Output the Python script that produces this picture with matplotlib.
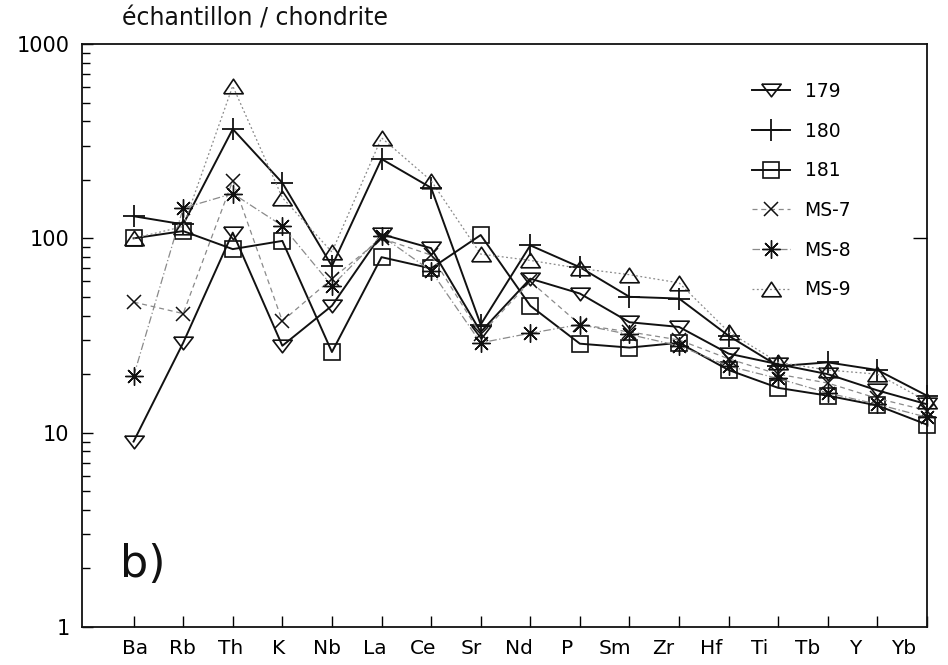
import matplotlib
matplotlib.use("Agg")
import matplotlib.pyplot as plt
import matplotlib.transforms as mtransforms
from matplotlib.ticker import FixedLocator, LogLocator, NullFormatter, NullLocator

elements = ["Ba", "Rb", "Th", "K", "Nb", "La", "Ce", "Sr", "Nd", "P",
            "Sm", "Zr", "Hf", "Ti", "Tb", "Y", "Yb"]

s179 = [9.0, 29, 107, 28, 45, 105, 89, 33, 62, 52, 37, 35, 25.5, 22.5, 20, 16.5, 14]
s180 = [130, 118, 365, 193, 72, 256, 182, 36, 92, 71, 50, 49, 31.5, 22, 23, 21, 15.5]
s181 = [100, 109, 88, 97, 26, 80, 70, 104, 45, 28.7, 27.4, 29, 21, 17, 15.5, 13.8, 11]
ms7 = [47, 41, 198, 37.5, 62, 100, 82, 32, 60, 36, 33, 30, 24, 20, 18, 15, 13]
ms8 = [19.5, 143, 170, 116, 57, 103, 68, 29, 32.5, 36, 32, 28, 22, 19, 16, 14, 12]
ms9 = [100, 115, 608, 162, 85, 329, 198, 83, 77, 70, 65, 59, 33, 23, 21, 20, 14.5]

series_labels = ["179", "180", "181", "MS-7", "MS-8", "MS-9"]

plt.rcParams['font.family'] = ['DejaVu Sans']

fig = plt.figure(figsize=(9.48, 6.65), dpi=100)
ax = fig.add_axes([82/948, 1-627/665, (927-82)/948, (627-44)/665])

x = list(range(len(elements)))

tri_down = [(-1, 0.65), (1, 0.65), (0, -0.65), (-1, 0.65)]
tri_up = [(-1, -0.75), (1, -0.75), (0, 0.75), (-1, -0.75)]

black = "#111111"
gray = "#8a8a8a"
styles = [
    dict(color=black, ls="-", lw=1.4, marker=tri_down, ms=14),
    dict(color=black, ls="-", lw=1.4, marker="+", ms=16, mew=1.3),
    dict(color=black, ls="-", lw=1.4, marker="s", ms=11),
    dict(color=gray, ls=(0, (4, 3)), lw=0.9, marker="x", ms=10, mec=black, mew=1.1),
    dict(color=gray, ls=(0, (6, 2, 1, 2)), lw=0.9, marker=(8, 2, 0), ms=13, mec=black, mew=1.0),
    dict(color=gray, ls=(0, (1.5, 2)), lw=0.9, marker=tri_up, ms=14, mec=black),
]
data = [s179, s180, s181, ms7, ms8, ms9]

for vals, lab, st in zip(data, series_labels, styles):
    kw = dict(st)
    kw.setdefault("mec", black)
    kw.setdefault("mew", 1.2)
    ax.plot(x, vals, label=lab, mfc="none", clip_on=False, **kw)

ax.set_yscale("log")
ax.set_ylim(1, 1000)
ax.set_xlim(-1.04, 16)

ax.set_xticks(x)
ax.set_xticklabels(elements)
ax.tick_params(axis="x", direction="in", length=8, width=1, labelsize=14.5, pad=9)
# labels in the original drift slightly left of their ticks
for i, lbl in enumerate(ax.get_xticklabels()):
    dx = (1.3 - 1.54 * i) / 100.0
    lbl.set_transform(lbl.get_transform() +
                      mtransforms.ScaledTranslation(dx, 0, fig.dpi_scale_trans))

ax.yaxis.set_major_locator(FixedLocator([1, 10, 100, 1000]))
ax.set_yticklabels(["1", "10", "100", "1000"])
ax.yaxis.set_minor_locator(LogLocator(base=10, subs=range(2, 10)))
ax.yaxis.set_minor_formatter(NullFormatter())
ax.tick_params(axis="y", which="major", direction="in", length=8, width=1,
               labelsize=15, pad=9)
ax.tick_params(axis="y", which="minor", direction="in", length=6, width=1)

ax2 = ax.twinx()
ax2.set_yscale("log")
ax2.set_ylim(1, 1000)
ax2.yaxis.set_major_locator(FixedLocator([100]))
ax2.yaxis.set_minor_locator(NullLocator())
ax2.yaxis.set_major_formatter(NullFormatter())
ax2.tick_params(axis="y", direction="in", length=10, width=1)
for sp in ax2.spines.values():
    sp.set_visible(False)

for sp in ax.spines.values():
    sp.set_linewidth(1.3)
    sp.set_color(black)

leg = ax.legend(loc="upper left", bbox_to_anchor=((752-82)/845, (627-82)/583),
                frameon=False, fontsize=13.5, handlelength=2.0, handletextpad=0.8,
                labelspacing=1.1, borderpad=0, borderaxespad=0)

fig.text(122/948, 1-18/665, "échantillon / chondrite", fontsize=17,
         ha="left", va="center", color=black)
ax.text((120-82)/845, (627-577)/583, "b)", transform=ax.transAxes,
        fontsize=32, ha="left", va="baseline", color=black)

fig.savefig("out.png", dpi=100, facecolor="white")
